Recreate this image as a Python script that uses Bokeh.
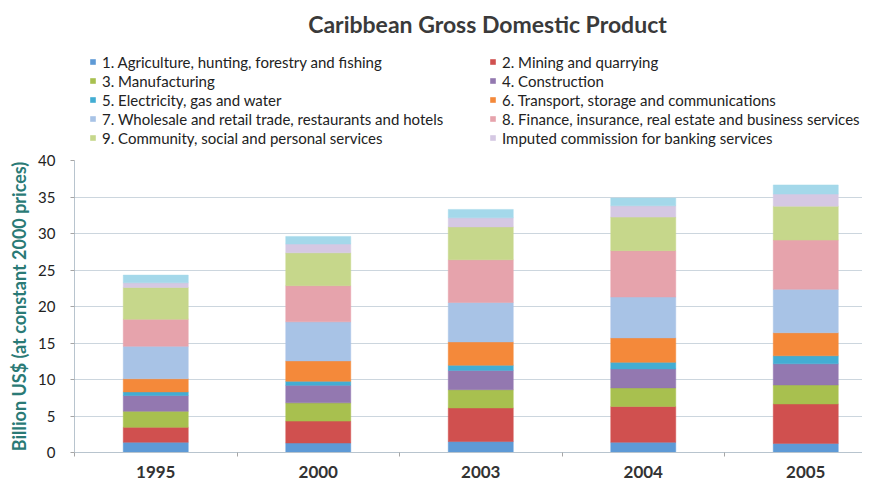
from bokeh.plotting import figure
from bokeh.layouts import column
from bokeh.models import Range1d, FixedTicker, Legend, LegendItem, Label, ColumnDataSource
from bokeh.embed import file_html
from bokeh.resources import INLINE

# ---- data (billion US$, constant 2000 prices) ----
years = ["1995", "2000", "2003", "2004", "2005"]
agriculture = [1.40, 1.30, 1.50, 1.40, 1.25]
mining = [2.05, 3.00, 4.60, 4.90, 5.40]
manufacturing = [2.20, 2.50, 2.50, 2.55, 2.60]
construction = [2.15, 2.40, 2.65, 2.60, 2.90]
electricity = [0.50, 0.55, 0.70, 0.90, 1.10]
transport = [1.80, 2.80, 3.20, 3.35, 3.15]
wholesale = [4.45, 5.35, 5.40, 5.60, 5.95]
finance = [3.70, 4.95, 5.85, 6.35, 6.75]
community = [4.35, 4.50, 4.50, 4.60, 4.65]
imputed = [0.65, 1.20, 1.25, 1.55, 1.65]
other = [1.05, 1.05, 1.15, 1.05, 1.25]   # top band, not named in the legend

series_names = [
    "1. Agriculture, hunting, forestry and fishing",
    "2. Mining and quarrying",
    "3. Manufacturing",
    "4. Construction",
    "5. Electricity, gas and water",
    "6. Transport, storage and communications",
    "7. Wholesale and retail trade, restaurants and hotels",
    "8. Finance, insurance, real estate and business services",
    "9. Community, social and personal services",
    "Imputed commission for banking services",
    "",
]
series_values = [agriculture, mining, manufacturing, construction, electricity,
                 transport, wholesale, finance, community, imputed, other]
colors = ["#5E9AD6", "#D0504F", "#A8C04F", "#9378B0", "#42ADD3", "#F4893A",
          "#A8C3E6", "#E6A3AC", "#C6D78B", "#D5C8E3", "#A4D8EA"]
y_ticks = [0, 5, 10, 15, 20, 25, 30, 35, 40]

FONT = "Lato"

# ---- layout constants (pixels) ----
W = 862
HEAD_H = 150
MAIN_H = 332
FRAME_LEFT = 74
TOP_B, BOTTOM_B = 10, 30
x_end = -0.5 + (W - FRAME_LEFT) / 162.5

x = list(range(len(years)))
keys = ["s%d" % i for i in range(len(series_values))]
data = {"x": x}
for k, v in zip(keys, series_values):
    data[k] = v
source = ColumnDataSource(data)

# ---- main chart ----
p = figure(width=W, height=MAIN_H, output_backend="svg", toolbar_location=None,
           x_range=Range1d(-0.5, x_end), y_range=Range1d(0, 40),
           min_border_left=FRAME_LEFT, min_border_right=0, min_border_top=TOP_B,
           min_border_bottom=BOTTOM_B)
p.outline_line_color = None
p.background_fill_color = "white"
p.border_fill_color = "white"

renderers = p.vbar_stack(keys, x="x", width=0.4, source=source,
                         fill_color=colors, line_color=colors, line_width=0.5)

p.xaxis.ticker = FixedTicker(ticks=x, minor_ticks=[i - 0.5 for i in range(len(years) + 1)])
p.xaxis.major_label_overrides = {i: y for i, y in zip(x, years)}
p.xaxis.major_tick_line_color = None
p.xaxis.major_tick_out = 0
p.xaxis.major_tick_in = 0
p.xaxis.minor_tick_out = 4
p.xaxis.minor_tick_in = 0
p.xaxis.minor_tick_line_color = "#A6A6A6"
p.xaxis.axis_line_color = "#B8C4CE"
p.xaxis.major_label_standoff = 9
p.xaxis.major_label_text_font = FONT
p.xaxis.major_label_text_font_style = "bold"
p.xaxis.major_label_text_font_size = "17px"
p.xaxis.major_label_text_color = "#333333"

p.yaxis.ticker = FixedTicker(ticks=y_ticks)
p.yaxis.minor_tick_line_color = None
p.yaxis.major_tick_out = 4
p.yaxis.major_tick_in = 0
p.yaxis.major_tick_line_color = "#A6A6A6"
p.yaxis.axis_line_color = "#B8C4CE"
p.yaxis.major_label_standoff = 15
p.yaxis.major_label_text_font = FONT
p.yaxis.major_label_text_font_size = "15px"
p.yaxis.major_label_text_color = "#222222"
p.yaxis.axis_label = "Billion US$ (at constant 2000 prices)"
p.yaxis.axis_label_text_font = FONT
p.yaxis.axis_label_text_font_style = "bold"
p.yaxis.axis_label_text_font_size = "18px"
p.yaxis.axis_label_text_color = "#2A7A76"
p.yaxis.axis_label_standoff = 5

p.xgrid.grid_line_color = None
p.ygrid.grid_line_color = "#CCD6DE"

# ---- header: title and two-column legend (frame is aligned with the chart frame) ----
h = figure(width=W, height=HEAD_H, output_backend="svg", toolbar_location=None,
           x_range=Range1d(0, 1), y_range=Range1d(0, 1),
           min_border_left=FRAME_LEFT, min_border_right=0, min_border_top=0, min_border_bottom=0)
h.axis.visible = False
h.grid.visible = False
h.outline_line_color = None
h.background_fill_color = "white"
h.border_fill_color = "white"

# invisible zero-size placeholders that only provide the legend swatches
swatches = [h.vbar(x=[0.5], top=[0], bottom=[0], width=0, fill_color=c, line_color=None)
            for c in colors]

def make_legend(idx, loc):
    items = [LegendItem(label=series_names[i], renderers=[swatches[i]]) for i in idx]
    return Legend(items=items, location=loc, orientation="vertical",
                  border_line_color=None, background_fill_alpha=0,
                  padding=0, margin=0, spacing=0,
                  glyph_width=7, glyph_height=7, label_standoff=6, label_height=19,
                  label_text_font=FONT, label_text_font_size="15px",
                  label_text_color="#222222")

h.add_layout(make_legend([0, 2, 4, 6, 8], (89 - FRAME_LEFT, 3)))
h.add_layout(make_legend([1, 3, 5, 7, 9], (489 - FRAME_LEFT, 3)))

title = Label(x=487 - FRAME_LEFT, y=HEAD_H - 23, x_units="screen", y_units="screen",
              text="Caribbean Gross Domestic Product", text_align="center",
              text_baseline="middle", text_font=FONT, text_font_style="bold",
              text_font_size="23px", text_color="#3A3A3A")
h.add_layout(title)

layout = column(h, p, spacing=0)
open("out.html", "w").write(file_html(layout, INLINE))
